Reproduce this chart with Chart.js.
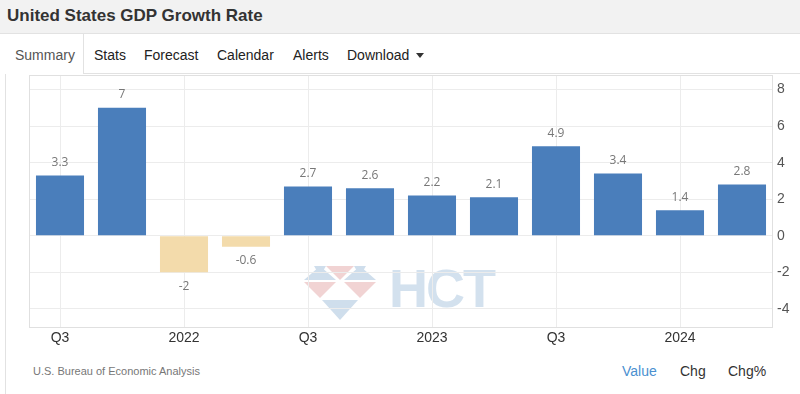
<!DOCTYPE html>
<html>
<head>
<meta charset="utf-8">
<script src="https://cdn.jsdelivr.net/npm/chart.js@4.4.3/dist/chart.umd.min.js"></script>
<style>
  html, body { margin: 0; padding: 0; background: #fff; }
  body { width: 800px; height: 394px; position: relative; overflow: hidden; font-family: "Liberation Sans", Arial, sans-serif; }
  .header { position: absolute; left: 0; top: 0; width: 800px; height: 33px; background: #f2f2f2; border-bottom: 1px solid #e2e2e2; }
  .header h1 { margin: 0; position: absolute; left: 7px; top: 6px; font-size: 17px; font-weight: bold; color: #333; }
  .frame { position: absolute; left: 5px; top: 34px; width: 1px; height: 360px; background: #e2e2e2; }
  .tabline { position: absolute; left: 84px; top: 73px; width: 716px; height: 1px; background: #e2e2e2; }
  .tab { position: absolute; top: 47px; font-size: 14px; color: #222; }
  .tab.active { left: 5px; top: 34px; width: 78px; height: 40px; border-right: 1px solid #e2e2e2; background: #fff; color: #555; }
  .tab.active span { position: absolute; left: 10px; top: 13px; }
  .caret { display: inline-block; margin-left: 7px; vertical-align: 2px; border-left: 4px solid transparent; border-right: 4px solid transparent; border-top: 5px solid #333; }
  .source { position: absolute; left: 33px; top: 365px; font-size: 11px; color: #777; }
  .mode { position: absolute; top: 363px; font-size: 14px; color: #333; }
  .wm { position: absolute; left: 302px; top: 262px; }
  .wm-text { position: absolute; left: 389px; top: 257px; font-size: 54px; font-weight: bold; color: #d3e1ee; letter-spacing: -2px; }
  #wrap { position: absolute; left: 0; top: 0; width: 800px; height: 394px; }
</style>
</head>
<body>
<div class="header"><h1>United States GDP Growth Rate</h1></div>
<div class="frame"></div>
<div class="tabline"></div>
<div class="tab active"><span>Summary</span></div>
<div class="tab" style="left:94px">Stats</div>
<div class="tab" style="left:144px">Forecast</div>
<div class="tab" style="left:217px">Calendar</div>
<div class="tab" style="left:293px">Alerts</div>
<div class="tab" style="left:347px">Download<span class="caret"></span></div>

<svg class="wm" width="76" height="60" viewBox="0 0 76 60">
  <polygon points="12,4 24,4 18,14" fill="#cfdeec"/>
  <polygon points="24,4 52,4 38,18" fill="#f1d3d3"/>
  <polygon points="52,4 64,4 58,14" fill="#cfdeec"/>
  <polygon points="2,18 18,4 34,18" fill="#cfdeec"/>
  <polygon points="42,18 58,4 74,18" fill="#cfdeec"/>
  <polygon points="2,20 34,20 18,36" fill="#f1d3d3"/>
  <polygon points="42,20 74,20 58,36" fill="#f1d3d3"/>
  <polygon points="20,38 56,38 38,58" fill="#cfdeec"/>
</svg>
<div class="wm-text">HCT</div>

<div class="source">U.S. Bureau of Economic Analysis</div>
<div class="mode" style="left:622px;color:#4a90d0">Value</div>
<div class="mode" style="left:680px">Chg</div>
<div class="mode" style="left:728px">Chg%</div>

<div id="wrap"><canvas id="chart"></canvas></div>

<script>
// quarterly GDP growth, annualized %
const quarters = ['2021 Q3', '2021 Q4', '2022 Q1', '2022 Q2', '2022 Q3', '2022 Q4',
                  '2023 Q1', '2023 Q2', '2023 Q3', '2023 Q4', '2024 Q1', '2024 Q2'];
const growth = [3.3, 7, -2, -0.6, 2.7, 2.6, 2.2, 2.1, 4.9, 3.4, 1.4, 2.8];
const tickLabels = ['Q3', null, '2022', null, 'Q3', null, '2023', null, 'Q3', null, '2024', null];
const yTicks = [-4, -2, 0, 2, 4, 6, 8];

const boxPlugin = {
    id: 'box',
    beforeDatasetsDraw(chart) {
        const a = chart.chartArea;
        const ctx = chart.ctx;
        ctx.save();
        ctx.strokeStyle = '#e0e0e0';
        ctx.lineWidth = 1;
        ctx.strokeRect(a.left + 0.5, a.top + 0.5, a.right - a.left - 1, a.bottom - a.top);
        ctx.restore();
    }
};

const valueLabels = {
    id: 'valueLabels',
    afterDatasetsDraw(chart) {
        const ctx = chart.ctx;
        const meta = chart.getDatasetMeta(0);
        ctx.save();
        ctx.font = '12px "Open Sans", sans-serif';
        ctx.fillStyle = '#777';
        ctx.textAlign = 'center';
        ctx.textBaseline = 'middle';
        meta.data.forEach((bar, i) => {
            const v = growth[i];
            const y = v < 0 ? bar.y + 14 : bar.y - 13;
            ctx.fillText(String(v), bar.x, y);
        });
        ctx.restore();
    }
};

new Chart(document.getElementById('chart'), {
    type: 'bar',
    data: {
        labels: quarters,
        datasets: [{
            label: 'GDP Growth Rate',
            data: growth,
            backgroundColor: ctx => growth[ctx.dataIndex] < 0 ? '#f3dbab' : '#4a7ebb',
            barPercentage: 1,
            categoryPercentage: 0.775
        }]
    },
    options: {
        responsive: true,
        maintainAspectRatio: false,
        animation: false,
        layout: { padding: { left: 29, top: 75, right: 0, bottom: 47 } },
        plugins: {
            legend: { display: false },
            tooltip: { enabled: false }
        },
        scales: {
            x: {
                grid: { offset: false, color: '#ececec', drawTicks: false },
                border: { display: false },
                ticks: {
                    autoSkip: false,
                    maxRotation: 0,
                    padding: 3,
                    color: '#333',
                    font: { family: '"Liberation Sans", Arial, sans-serif', size: 14 },
                    callback: (v, i) => tickLabels[i]
                },
                afterFit: scale => { scale.height = 20; }
            },
            y: {
                position: 'right',
                min: -5,
                max: 8.8,
                grid: { color: '#ececec', drawTicks: false },
                border: { display: false },
                afterBuildTicks: axis => { axis.ticks = yTicks.map(v => ({ value: v })); },
                ticks: {
                    padding: 4,
                    color: '#555',
                    font: { family: '"Liberation Sans", Arial, sans-serif', size: 14 }
                },
                afterFit: scale => { scale.width = 27; }
            }
        }
    },
    plugins: [boxPlugin, valueLabels]
});
</script>
</body>
</html>
